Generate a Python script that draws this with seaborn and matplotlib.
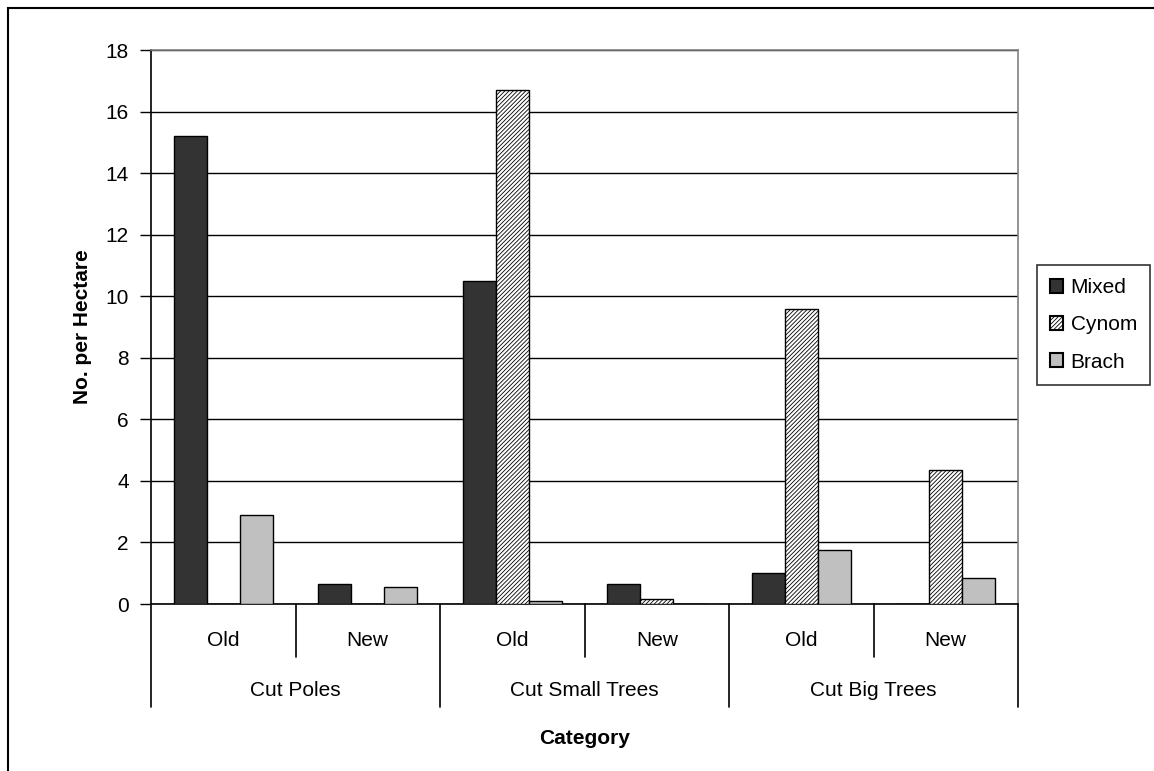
import matplotlib
matplotlib.use("Agg")
import matplotlib.pyplot as plt
import matplotlib.patches as mpatches
import seaborn as sns
import pandas as pd

groups = ["Cut Poles", "Cut Small Trees", "Cut Big Trees"]
ages = ["Old", "New"]
series = ["Mixed", "Cynom", "Brach"]
mixed = [15.2, 0.65, 10.5, 0.65, 1.0, 0.0]
cynom = [0.0, 0.0, 16.7, 0.15, 9.6, 4.35]
brach = [2.9, 0.55, 0.1, 0.0, 1.75, 0.85]
yticks = [0, 2, 4, 6, 8, 10, 12, 14, 16, 18]

sns.set_theme(style="white")
plt.rcParams["font.family"] = ["Liberation Sans", "DejaVu Sans"]
plt.rcParams["text.color"] = "black"
plt.rcParams["axes.labelcolor"] = "black"
plt.rcParams["xtick.color"] = "black"
plt.rcParams["ytick.color"] = "black"
plt.rcParams["hatch.linewidth"] = 0.6
plt.rcParams["hatch.color"] = "#333333"

HATCH = "////////"
FS = 15

slots = [f"{g}|{a}" for g in groups for a in ages]
rows = []
for name, vals in zip(series, [mixed, cynom, brach]):
    for s, v in zip(slots, vals):
        rows.append({"slot": s, "series": name, "value": v})
df = pd.DataFrame(rows)

colors = {"Mixed": "#333333", "Cynom": "#ffffff", "Brach": "#c0c0c0"}

fig = plt.figure(figsize=(11.54, 7.71), dpi=100)
ax = fig.add_axes([151 / 1154, 1 - 604 / 771, (1018 - 151) / 1154, (604 - 50) / 771])

sns.barplot(data=df, x="slot", y="value", hue="series", order=slots,
            hue_order=series, palette=colors, width=0.685, gap=0,
            edgecolor="black", linewidth=1.0, saturation=1, ax=ax,
            legend=False, zorder=3)

n = len(slots)
for i, p in enumerate(ax.patches[: 3 * n]):
    if i // n == 1:
        p.set_hatch(HATCH)

ax.set_ylim(0, 18)
ax.set_xlim(-0.5, n - 0.5)
ax.set_yticks(yticks)
ax.set_yticklabels([str(t) for t in yticks], fontsize=FS, color="black")
ax.yaxis.grid(True, color="black", linewidth=1.0, zorder=0)
ax.set_axisbelow(True)
ax.tick_params(axis="y", left=True, length=8, width=1.0, color="black", pad=8)
ax.set_xticks([])
ax.set_xlabel("")
ax.set_ylabel("No. per Hectare", fontsize=FS, fontweight="bold", labelpad=10,
              color="black")

for side in ["left", "bottom"]:
    ax.spines[side].set_color("black")
    ax.spines[side].set_linewidth(1.2)
for side in ["top", "right"]:
    ax.spines[side].set_visible(True)
    ax.spines[side].set_color("#808080")
    ax.spines[side].set_linewidth(1.2)

# two-level category axis below the plot
xt = ax.get_xaxis_transform()
for k, s in enumerate(slots):
    age = s.split("|")[1]
    ax.text(k, -0.066, age, transform=xt, ha="center", va="center", fontsize=FS)
for k in range(1, n, 2):
    ax.plot([k - 0.5, k - 0.5], [0, -0.096], transform=xt, color="black",
            lw=1.2, clip_on=False)
for g, name in enumerate(groups):
    ax.text(2 * g + 0.5, -0.156, name, transform=xt, ha="center",
            va="center", fontsize=FS)
for k in range(0, n + 1, 2):
    ax.plot([k - 0.5, k - 0.5], [0, -0.186], transform=xt, color="black",
            lw=1.2, clip_on=False)
ax.text((n - 1) / 2, -0.243, "Category", transform=xt, ha="center",
        va="center", fontsize=FS, fontweight="bold")

handles = [mpatches.Patch(facecolor=colors[s], edgecolor="black", linewidth=1.5,
                          hatch=HATCH if s == "Cynom" else None, label=s)
           for s in series]
leg = fig.legend(handles=handles, loc="upper left",
                 bbox_to_anchor=(1037 / 1154, 1 - 265 / 771),
                 fontsize=FS, frameon=True, fancybox=False,
                 edgecolor="black", handlelength=0.65, handleheight=0.65,
                 handletextpad=0.35, labelspacing=0.88, borderpad=0.62,
                 borderaxespad=0, labelcolor="black")
leg.get_frame().set_linewidth(1.2)

# outer frame around the chart
fig.patches.append(mpatches.Rectangle((8 / 1154, -0.05), 1.1, 1 - 8 / 771 + 0.05,
                                      transform=fig.transFigure, fill=False,
                                      edgecolor="black", linewidth=1.5))

fig.savefig("out.png", dpi=100)
